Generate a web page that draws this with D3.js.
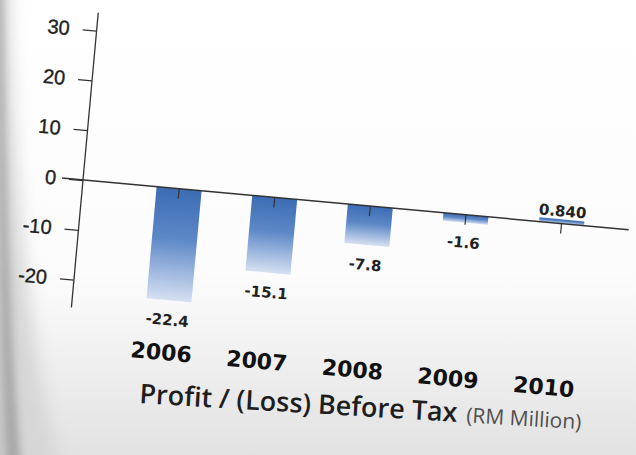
<!DOCTYPE html>
<html>
<head>
<meta charset="utf-8">
<script src="https://cdn.jsdelivr.net/npm/d3@7"></script>
<style>
  html, body { margin: 0; padding: 0; background: #fff; }
  svg { display: block; }
</style>
</head>
<body>
<svg id="chart" width="636" height="455"></svg>
<script>
// Profit / (Loss) before tax, RM million
const years = ["2006", "2007", "2008", "2009", "2010"];
const profit = [-22.4, -15.1, -7.8, -1.6, 0.84];
const valueLabels = ["-22.4", "-15.1", "-7.8", "-1.6", "0.840"];
const yTicks = [30, 20, 10, 0, -10, -20];
const titleMain = "Profit / (Loss) Before Tax";
const titleUnit = "(RM Million)";

const W = 636, H = 455;
const svg = d3.select("#chart");
const defs = svg.append("defs");

// page background: white top fading to a soft grey towards the bottom
const bgGrad = defs.append("linearGradient").attr("id", "bg").attr("x1", 0).attr("y1", 0).attr("x2", 0).attr("y2", 1);
bgGrad.append("stop").attr("offset", "0%").attr("stop-color", "#ffffff");
bgGrad.append("stop").attr("offset", "60%").attr("stop-color", "#fcfcfc");
bgGrad.append("stop").attr("offset", "100%").attr("stop-color", "#e2e2e2");
svg.append("rect").attr("width", W).attr("height", H).attr("fill", "url(#bg)");

// curled page edge on the left: a broad soft shade and a darker fold line
const soft = defs.append("filter").attr("id", "soft").attr("x", "-50%").attr("y", "-10%").attr("width", "200%").attr("height", "120%");
soft.append("feGaussianBlur").attr("stdDeviation", 9);
const fold = defs.append("filter").attr("id", "fold").attr("x", "-50%").attr("y", "-10%").attr("width", "200%").attr("height", "120%");
fold.append("feGaussianBlur").attr("stdDeviation", 4);
svg.append("path")
  .attr("d", "M-20,-20 L8,-20 C14,200 30,360 62,475 L-20,475 Z")
  .attr("fill", "#d6d6d6")
  .attr("filter", "url(#soft)");
svg.append("path")
  .attr("d", "M-20,-20 L2,-20 C5,200 10,360 22,475 L-20,475 Z")
  .attr("fill", "#9c9c9c")
  .attr("opacity", 0.85)
  .attr("filter", "url(#fold)");
svg.append("path")
  .attr("d", "M-20,-20 L-2,-20 C0,200 2,360 8,475 L-20,475 Z")
  .attr("fill", "#d9d9d9")
  .attr("opacity", 0.7)
  .attr("filter", "url(#fold)");

// bar fill: saturated blue at the axis, washing out towards the end
const barGrad = defs.append("linearGradient").attr("id", "bar").attr("x1", 0).attr("y1", 0).attr("x2", 0).attr("y2", 1);
barGrad.append("stop").attr("offset", "0%").attr("stop-color", "#3b6cb4");
barGrad.append("stop").attr("offset", "45%").attr("stop-color", "#5d88c7");
barGrad.append("stop").attr("offset", "100%").attr("stop-color", "#d6e0f2");

// whole plot sits on a slightly tilted sheet
const plot = svg.append("g").attr("transform", "translate(83,180) rotate(5.2)");

const y = d3.scaleLinear().domain([-25.6, 33.6]).range([128, -168]);
const x = d3.scaleBand().domain(years).range([48.5, 528.5]).paddingInner(0.53).paddingOuter(0.265);

// bars
plot.selectAll("rect.bar")
  .data(profit)
  .join("rect")
  .attr("class", "bar")
  .attr("x", (d, i) => x(years[i]))
  .attr("width", x.bandwidth())
  .attr("y", d => y(Math.max(0, d)))
  .attr("height", d => Math.abs(y(d) - y(0)))
  .attr("fill", "url(#bar)");

// y axis
const yAxis = d3.axisLeft(y).tickValues(yTicks).tickSize(14).tickPadding(13).tickFormat(d => String(d));
const yg = plot.append("g").call(yAxis);
yg.select(".domain").remove();
yg.selectAll(".tick line").attr("stroke", "#333").attr("stroke-width", 1.3);
yg.selectAll(".tick text")
  .attr("font-family", "Liberation Sans, Arial, sans-serif")
  .attr("font-size", 20)
  .attr("fill", "#222")
  .attr("stroke", "#222")
  .attr("stroke-width", 0.35);
plot.append("line")
  .attr("x1", 0).attr("x2", 0)
  .attr("y1", y.range()[1]).attr("y2", y.range()[0])
  .attr("stroke", "#333").attr("stroke-width", 1.3);

// zero baseline with small category ticks
plot.append("line")
  .attr("x1", -21).attr("x2", 548)
  .attr("y1", y(0)).attr("y2", y(0))
  .attr("stroke", "#333").attr("stroke-width", 1.5);
plot.selectAll("line.cat")
  .data(years)
  .join("line")
  .attr("class", "cat")
  .attr("x1", d => x(d) + x.bandwidth() / 2)
  .attr("x2", d => x(d) + x.bandwidth() / 2)
  .attr("y1", y(0)).attr("y2", y(0) + 10)
  .attr("stroke", "#333").attr("stroke-width", 1.2);

// value labels
plot.selectAll("text.val")
  .data(profit)
  .join("text")
  .attr("class", "val")
  .attr("x", (d, i) => x(years[i]) + x.bandwidth() / 2)
  .attr("y", d => d < 0 ? y(d) + 25 : y(d) - 3)
  .attr("text-anchor", "middle")
  .attr("font-family", "DejaVu Sans, sans-serif")
  .attr("font-weight", "bold")
  .attr("font-size", 15)
  .attr("fill", "#222")
  .text((d, i) => valueLabels[i]);

// year labels
plot.selectAll("text.year")
  .data(years)
  .join("text")
  .attr("class", "year")
  .attr("x", d => x(d) + x.bandwidth() / 2 - 3)
  .attr("y", 172)
  .attr("text-anchor", "middle")
  .attr("font-family", "DejaVu Sans, sans-serif")
  .attr("font-weight", "bold")
  .attr("font-size", 22)
  .attr("fill", "#111")
  .text(d => d);

// axis title
const title = plot.append("text")
  .attr("transform", "translate(76,217) rotate(-1.8)")
  .attr("font-family", "Open Sans, sans-serif");
title.append("tspan")
  .attr("font-size", 27)
  .attr("font-weight", 600)
  .attr("fill", "#1e1e1e")
  .text(titleMain);
title.append("tspan")
  .attr("dx", 9)
  .attr("font-size", 21)
  .attr("font-weight", 400)
  .attr("fill", "#505050")
  .text(titleUnit);
</script>
</body>
</html>
